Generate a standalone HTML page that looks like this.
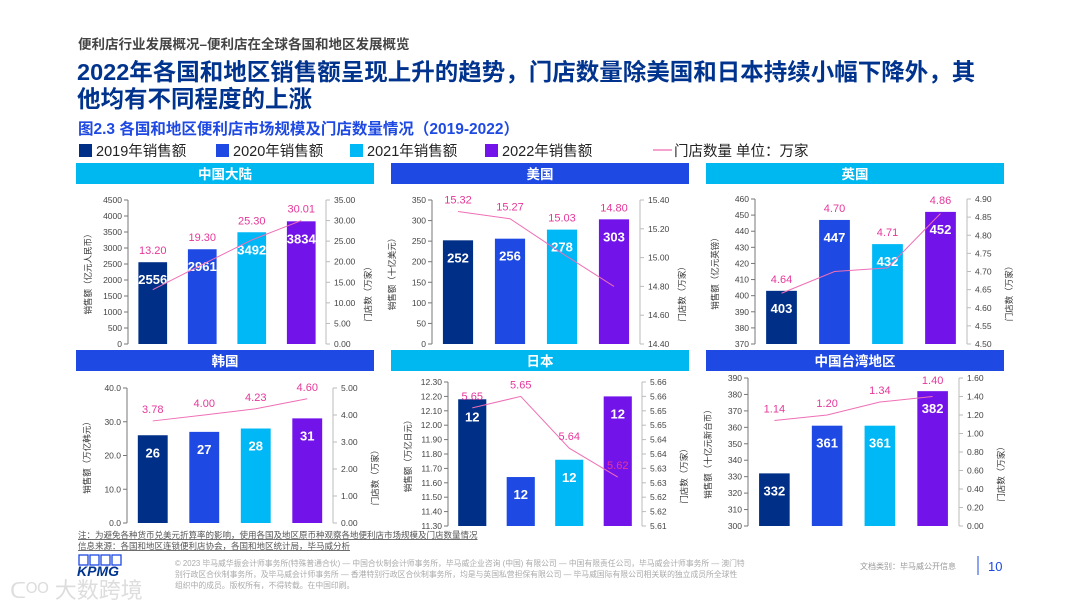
<!DOCTYPE html>
<html><head><meta charset="utf-8">
<style>
body{margin:0;background:#fff;}
#root{position:relative;width:1080px;height:608px;overflow:hidden;background:#fff;font-family:"Liberation Sans","Noto Sans CJK SC",sans-serif;}
svg text{font-family:"Liberation Sans","Noto Sans CJK SC",sans-serif;}
</style></head>
<body>
<div id="root">
<svg id="svg" width="1080" height="608" xmlns="http://www.w3.org/2000/svg">
<text x="78" y="49" font-size="13.5" font-weight="bold" fill="#444">便利店行业发展概况–便利店在全球各国和地区发展概览</text>
<text x="77" y="80" font-size="23.5" font-weight="bold" fill="#00338d">2022年各国和地区销售额呈现上升的趋势，门店数量除美国和日本持续小幅下降外，其</text>
<text x="77" y="107" font-size="23.5" font-weight="bold" fill="#00338d">他均有不同程度的上涨</text>
<text x="78" y="134" font-size="15.5" font-weight="bold" fill="#1e49e2">图2.3 各国和地区便利店市场规模及门店数量情况（2019-2022）</text>
<g>
<rect x="79" y="144" width="13" height="13" fill="#002f87"/>
<text x="96" y="156" font-size="14.5" fill="#222">2019年销售额</text>
<rect x="216" y="144" width="13" height="13" fill="#1e49e2"/>
<text x="233" y="156" font-size="14.5" fill="#222">2020年销售额</text>
<rect x="350" y="144" width="13" height="13" fill="#00b8f5"/>
<text x="367" y="156" font-size="14.5" fill="#222">2021年销售额</text>
<rect x="485" y="144" width="13" height="13" fill="#7213ea"/>
<text x="502" y="156" font-size="14.5" fill="#222">2022年销售额</text>
<line x1="653" y1="150" x2="672" y2="150" stroke="#e8479a" stroke-width="1"/>
<text x="674" y="156" font-size="14.5" fill="#222">门店数量 单位：万家</text>
</g>
<g id="charts"></g>
<g>
<text x="78" y="538" font-size="8.5" fill="#555" text-decoration="underline">注：为避免各种货币兑美元折算率的影响，使用各国及地区原币种观察各地便利店市场规模及门店数量情况</text>
<text x="78" y="549" font-size="8.5" fill="#555" text-decoration="underline">信息来源：各国和地区连锁便利店协会，各国和地区统计局，毕马威分析</text>
<g>
<rect x="79" y="555" width="9" height="10" fill="none" stroke="#1e49e2" stroke-width="1.3"/>
<rect x="90" y="555" width="9" height="10" fill="none" stroke="#1e49e2" stroke-width="1.3"/>
<rect x="101" y="555" width="9" height="10" fill="none" stroke="#1e49e2" stroke-width="1.3"/>
<rect x="112" y="555" width="9" height="10" fill="none" stroke="#1e49e2" stroke-width="1.3"/>
<text x="77" y="576" font-size="14" font-weight="bold" font-style="italic" fill="#00338d">KPMG</text>
</g>
<text x="10" y="598" font-size="22" fill="#ddd">ᑕᴼᴼ 大数跨境</text>
<text x="175" y="566" font-size="7.8" fill="#aaa">© 2023 毕马威华振会计师事务所(特殊普通合伙) — 中国合伙制会计师事务所，毕马威企业咨询 (中国) 有限公司 — 中国有限责任公司，毕马威会计师事务所 — 澳门特</text>
<text x="175" y="577" font-size="7.8" fill="#aaa">别行政区合伙制事务所，及毕马威会计师事务所 — 香港特别行政区合伙制事务所，均是与英国私营担保有限公司 — 毕马威国际有限公司相关联的独立成员所全球性</text>
<text x="175" y="588" font-size="7.8" fill="#aaa">组织中的成员。版权所有，不得转载。在中国印刷。</text>
<text x="860" y="569" font-size="8" fill="#999">文档类别：毕马威公开信息</text>
<line x1="978" y1="556" x2="978" y2="575" stroke="#1e49e2" stroke-width="1"/>
<text x="988" y="571" font-size="13" fill="#1e49e2">10</text>
</g>
</svg>
</div>
<script>
// ---- data ----
const years = ["2019","2020","2021","2022"];
const titles = ["中国大陆","美国","英国","韩国","日本","中国台湾地区"];
const salesCN = [2556,2961,3492,3834];
const salesUS = [252,256,278,303];
const salesUK = [403,447,432,452];
const salesKR = [26,27,28,31];
const salesJP = [12.18,11.64,11.76,12.20];
const salesTW = [332,361,361,382];
const storesCN = [13.20,19.30,25.30,30.01];
const storesUS = [15.32,15.27,15.03,14.80];
const storesUK = [4.64,4.70,4.71,4.86];
const storesKR = [3.78,4.00,4.23,4.60];
const storesJP = [5.651,5.655,5.637,5.627];
const storesTW = [1.14,1.20,1.34,1.40];
const salesLabelsJP = ["12","12","12","12"];
const storeLabelsJP = ["5.65","5.65","5.64","5.62"];
const leftTitles = ["销售额（亿元人民币）","销售额（十亿美元）","销售额（亿元英镑）","销售额（万亿韩元）","销售额（万亿日元）","销售额（十亿元新台币）"];
// axis ranges: [min,max,step,decimals]
const leftAxes = [[0,4500,500,0],[0,350,50,0],[370,460,10,0],[0,40,10,1],[11.3,12.3,0.1,2],[300,390,10,0]];
const rightAxes = [[0,35,5,2],[14.4,15.4,0.2,2],[4.5,4.9,0.05,2],[0,5,1,2],[5.61,5.66,0.005,2],[0,1.6,0.2,2]];

const salesAll = [salesCN,salesUS,salesUK,salesKR,salesJP,salesTW];
const storesAll = [storesCN,storesUS,storesUK,storesKR,storesJP,storesTW];
const barColors = ["#002f87","#1e49e2","#00b8f5","#7213ea"];
const headerColors = ["#00b8f0","#1e49e2","#00b8f0","#1e49e2","#00b8f0","#1e49e2"];
const layout = [
 {hx:76,hy:163,lx:128,rx:326,top:200,bot:344},
 {hx:391,hy:163,lx:432,rx:640,top:200,bot:344},
 {hx:706,hy:163,lx:755,rx:967,top:199,bot:344},
 {hx:76,hy:350,lx:127,rx:333,top:388,bot:523},
 {hx:391,hy:350,lx:448,rx:642,top:382,bot:526},
 {hx:706,hy:350,lx:748,rx:959,top:378,bot:526}
];
const NS="http://www.w3.org/2000/svg";
const g=document.getElementById('charts');
function mk(tag,attrs,parent,txt){const e=document.createElementNS(NS,tag);for(const k in attrs)e.setAttribute(k,attrs[k]);if(txt!==undefined)e.textContent=txt;parent.appendChild(e);return e;}

for(let p=0;p<6;p++){
 const L=layout[p], la=leftAxes[p], ra=rightAxes[p];
 const pg=mk('g',{},g);
 
 
 const hb=mk('rect',{x:L.hx,y:L.hy,width:298,height:21,fill:headerColors[p]},pg);
 
 
 const ht=mk('text',{x:L.hx+149,y:L.hy+16,'font-size':13.5,'font-weight':'bold',fill:'#fff','text-anchor':'middle'},pg,titles[p]);
 
 
 const yL=v=>L.bot-(v-la[0])/(la[1]-la[0])*(L.bot-L.top);
 const yR=v=>L.bot-(v-ra[0])/(ra[1]-ra[0])*(L.bot-L.top);
 const slot=(L.rx-L.lx)/4;
 const xC=i=>L.lx+slot*(i+0.5);
 const al=mk('line',{x1:L.lx,y1:L.top,x2:L.lx,y2:L.bot,stroke:'#777','stroke-width':1},pg);
 
 
 const nl=Math.round((la[1]-la[0])/la[2]);
 for(let k=0;k<=nl;k++){const v=la[0]+k*la[2];const y=yL(v);
  mk('line',{x1:L.lx-4,y1:y,x2:L.lx,y2:y,stroke:'#777','stroke-width':1},pg);
  const t=mk('text',{x:L.lx-6,y:y+3,'font-size':8.5,fill:'#444','text-anchor':'end'},pg,v.toFixed(la[3]));
  
  }
 const nr=Math.round((ra[1]-ra[0])/ra[2]);
 const ar=mk('line',{x1:L.rx,y1:L.top,x2:L.rx,y2:L.bot,stroke:'#bbb','stroke-width':1},pg);
 
 
 for(let k=0;k<=nr;k++){const v=ra[0]+k*ra[2];const y=yR(v);
  mk('line',{x1:L.rx,y1:y,x2:L.rx+4,y2:y,stroke:'#bbb','stroke-width':1},pg);
  const t=mk('text',{x:L.rx+8,y:y+3,'font-size':8.5,fill:'#444'},pg,v.toFixed(ra[3]));
  
  }
 const cyL=(L.top+L.bot)/2;
 const lt=mk('text',{x:0,y:0,'font-size':8.5,fill:'#333','text-anchor':'middle',transform:`translate(${L.lx-37},${cyL}) rotate(-90)`},pg,leftTitles[p]);
 
 
 const rt=mk('text',{x:0,y:0,'font-size':8.5,fill:'#333','text-anchor':'middle',transform:`translate(${L.rx+45},${cyL+20}) rotate(-90)`},pg,'门店数（万家）');
 
 
 const bw=slot*0.58;
 for(let i=0;i<4;i++){const v=salesAll[p][i];const y=yL(v);
  const b=mk('rect',{x:xC(i)-bw/2,y:y,width:bw,height:L.bot-y,fill:barColors[i]},pg);
  
  
  const lab=p===4?salesLabelsJP[i]:String(Math.round(v));
  const bt=mk('text',{x:xC(i),y:y+22,'font-size':13,'font-weight':'bold',fill:'#fff','text-anchor':'middle'},pg,lab);
  
  }
 const pts=storesAll[p].map((v,i)=>xC(i)+','+yR(v)).join(' ');
 const pl=mk('polyline',{points:pts,fill:'none',stroke:'#ef6fb5','stroke-width':1},pg);
 
 
 for(let i=0;i<4;i++){const v=storesAll[p][i];
  const lab=p===4?storeLabelsJP[i]:v.toFixed(2);
  let ly=(p===4?yR(v):Math.min(yR(v),yL(salesAll[p][i])))-8;
  ly=Math.max(ly,L.hy+34);
  const st=mk('text',{x:xC(i),y:ly,'font-size':11,fill:'#e6379a','text-anchor':'middle'},pg,lab);
  
  }
}
</script>
</body></html>
